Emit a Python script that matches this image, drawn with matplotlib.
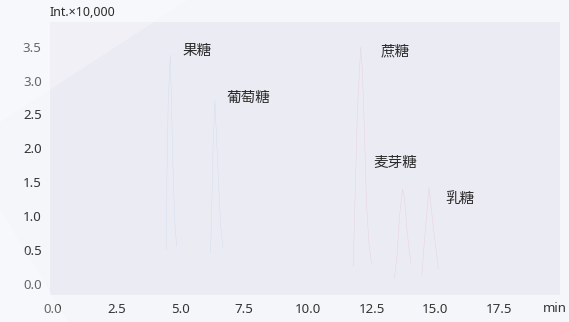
import matplotlib
matplotlib.use("Agg")
import matplotlib.pyplot as plt
from matplotlib.patches import Polygon

plt.rcParams['font.family'] = ['Noto Sans', 'Noto Sans CJK SC', 'DejaVu Sans']

# retention time (min) / intensity (x10,000) points of each peak
fructose_t = [4.45, 4.47, 4.52, 4.60, 4.64, 4.70, 4.78, 4.85]
fructose_i = [0.50, 1.60, 2.70, 3.38, 2.80, 1.80, 0.90, 0.55]
glucose_t = [6.18, 6.22, 6.28, 6.35, 6.40, 6.47, 6.57, 6.67]
glucose_i = [0.45, 1.00, 2.00, 2.71, 2.30, 1.70, 0.90, 0.52]
sucrose_t = [11.78, 11.85, 11.95, 12.08, 12.14, 12.22, 12.30, 12.40, 12.50]
sucrose_i = [0.25, 1.20, 2.60, 3.50, 3.15, 2.30, 1.20, 0.60, 0.30]
maltose_t = [13.40, 13.50, 13.60, 13.72, 13.80, 13.88, 13.96, 14.05]
maltose_i = [0.08, 0.40, 1.00, 1.40, 1.25, 0.85, 0.55, 0.30]
lactose_t = [14.48, 14.55, 14.65, 14.76, 14.85, 14.95, 15.05, 15.12]
lactose_i = [0.12, 0.50, 0.95, 1.42, 1.10, 0.75, 0.45, 0.22]

peak_names = ['果糖', '葡萄糖', '蔗糖', '麦芽糖', '乳糖']
label_x = [5.09, 6.80, 12.85, 12.57, 15.39]
label_y = [3.43, 2.74, 3.43, 1.77, 1.24]

x_ticks = [0.0, 2.5, 5.0, 7.5, 10.0, 12.5, 15.0, 17.5]
y_ticks = [0.0, 0.5, 1.0, 1.5, 2.0, 2.5, 3.0, 3.5]

fig = plt.figure(figsize=(5.69, 3.22), dpi=100, facecolor='#f5f6fa')
fig.patches.append(Polygon([(0, 1), (0.33, 1), (0, 0.62)], closed=True,
                           transform=fig.transFigure, facecolor='white',
                           alpha=0.25, edgecolor='none', zorder=0))
fig.patches.append(Polygon([(0, 0.35), (0.12, 0), (0, 0)], closed=True,
                           transform=fig.transFigure, facecolor='white',
                           alpha=0.25, edgecolor='none', zorder=0))

ax = fig.add_axes([0.0879, 0.085, 0.8963, 0.847])
ax.set_facecolor('#ebebf4')

blue = '#9fc3df'
red = '#e59aac'
for t, y, c in [(fructose_t, fructose_i, blue), (glucose_t, glucose_i, blue),
                (sucrose_t, sucrose_i, red), (maltose_t, maltose_i, red),
                (lactose_t, lactose_i, red)]:
    ax.plot(t, y, color=c, lw=0.3, alpha=0.35)

for name, lx, ly in zip(peak_names, label_x, label_y):
    ax.text(lx, ly, name, ha='left', va='center', fontsize=10.5, color='#2b2b2b')

ax.set_xlim(-0.12, 19.9)
ax.set_ylim(-0.163, 3.867)
ax.set_xticks(x_ticks)
ax.set_xticklabels([f'{v:.1f}' for v in x_ticks])
ax.set_yticks(y_ticks)
ax.set_yticklabels([f'{v:.1f}' for v in y_ticks])
ax.tick_params(length=0, labelsize=9.5, labelcolor='#333333', pad=6)
for s in ax.spines.values():
    s.set_visible(False)

fig.text(555 / 569, 1 - 308 / 322, 'min', ha='center', va='center',
         fontsize=9.5, color='#333333')
fig.text(50 / 569, 1 - 13 / 322, 'Int.×10,000', ha='left', va='center',
         fontsize=9, color='#2b2b2b')

fig.savefig('out.png', dpi=100, facecolor=fig.get_facecolor())
